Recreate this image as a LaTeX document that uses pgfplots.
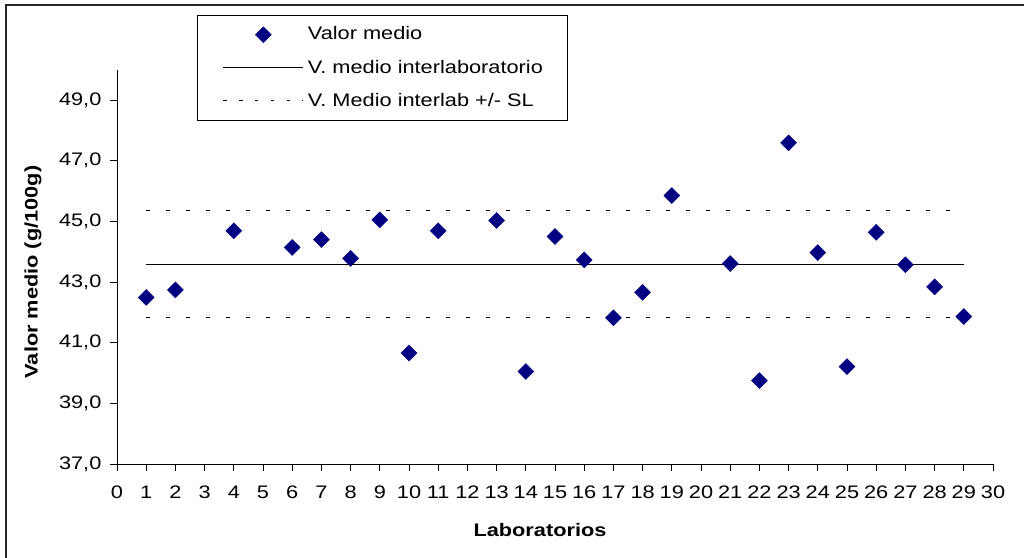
\documentclass[border=0pt]{standalone}
\usepackage{fontspec}
\setmainfont{Liberation Sans}[FakeStretch=1.2]
\usepackage{pgfplots}
\pgfplotsset{compat=1.18}
\definecolor{navy}{RGB}{0,0,128}
\pgfplotsset{
  markleg/.style={legend image code/.code={\path[draw=none,fill=none] (-4pt,0pt) -- (60pt,0pt); \draw[##1, only marks] plot coordinates {(30pt,0pt)};}},
  lineleg/.style={legend image code/.code={\path[draw=none] (-4pt,0pt) -- (60pt,0pt); \draw[##1] (0pt,0pt) -- (60pt,0pt);}},
  dashleg/.style={legend image code/.code={\path[draw=none] (-4pt,0pt) -- (60pt,0pt); \draw[##1, dash pattern=on 2.6pt off 9.25pt] (0pt,0pt) -- (60pt,0pt);}},
}
\pgfplotstableread{
lab valor
1 42.49
2 42.74
4 44.69
6 44.14
7 44.40
8 43.78
9 45.05
10 40.66
11 44.69
13 45.03
14 40.05
15 44.50
16 43.73
17 41.82
18 42.66
19 45.85
21 43.61
22 39.75
23 47.59
24 43.97
25 40.21
26 44.64
27 43.57
28 42.84
29 41.86
}\datatable
\begin{document}
\fontsize{13.6}{16}\selectfont
\begin{tikzpicture}
\path[use as bounding box] (0,0) rectangle (768pt,417.75pt);
\draw[line width=1.1pt, black!85] (4.5pt,-2pt) -- (4.5pt,414pt) -- (772pt,414pt);
\begin{axis}[
  at={(87.75pt,69.75pt)}, anchor=south west,
  scale only axis, width=657pt, height=295.7pt,
  xmin=0, xmax=30, ymin=37, ymax=50,
  axis x line=bottom, axis y line=left,
  axis line style={-, line width=0.75pt, black},
  tick align=outside, major tick length=5pt,
  tick style={black, line width=0.75pt},
  xtick={0,...,30}, ytick={37,39,...,49},
  /pgf/number format/assume math mode=true,
  ticklabel style={font=\fontsize{13.6}{16}\selectfont},
  yticklabel style={/pgf/number format/fixed, /pgf/number format/fixed zerofill, /pgf/number format/precision=1, /pgf/number format/use comma, xshift=-2pt},
  xticklabel style={yshift=-7pt},
  clip=false,
  legend cell align=left,
  legend style={at={(0.0913,1.1396)}, anchor=north west, draw=black, line width=0.6pt,
    inner xsep=15.5pt, inner ysep=5.8pt, row sep=6.9pt,
    font=\fontsize{13.6}{16}\selectfont, nodes={inner sep=3pt}},
]
\addplot[only marks, mark=square*, mark size=4.2pt, mark options={rotate=45, fill=navy, draw=navy, line width=0.4pt}, markleg]
  table[x=lab, y=valor] {\datatable};
\addlegendentry{Valor medio}
\addplot[black, line width=0.75pt, lineleg]
  coordinates {(1,43.59) (29,43.59)};
\addlegendentry{V. medio interlaboratorio}
\addplot[black, line width=0.75pt, dash pattern=on 3.2pt off 11.8pt, dashleg]
  coordinates {(1,45.37) (29,45.37)};
\addlegendentry{V. Medio interlab +/- SL}
\addplot[black, line width=0.75pt, dash pattern=on 3.2pt off 11.8pt, forget plot]
  coordinates {(1,41.82) (29,41.82)};
\end{axis}
\node[rotate=90, font=\bfseries\fontsize{13.6}{16}\selectfont] at (24.75pt,213.75pt) {Valor medio (g/100g)};
\node[font=\bfseries\fontsize{13.6}{16}\selectfont] at (405pt,20.25pt) {Laboratorios};
\end{tikzpicture}
\end{document}
